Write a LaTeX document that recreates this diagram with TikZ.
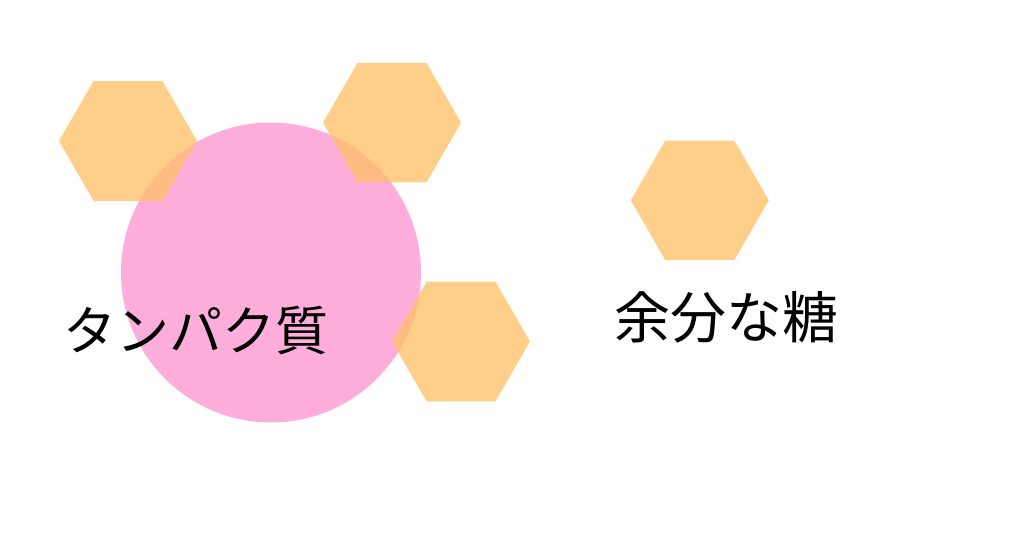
\documentclass[tikz,border=0pt]{standalone}
\usepackage{fontspec}
\usepackage{tikz}
\usetikzlibrary{shapes.geometric}
\newfontfamily\jpfont{Noto Sans CJK JP}
\definecolor{sugar}{RGB}{255,191,99}
\definecolor{protein}{RGB}{255,140,205}
\tikzstyle{hexa}=[regular polygon, regular polygon sides=6, fill=sugar, fill opacity=0.75, inner sep=0pt, minimum size=138pt]
\tikzstyle{word}=[inner sep=0pt, font=\jpfont\fontsize{53}{60}\selectfont]
\newcommand{\hexa}{\node[hexa]}

\begin{document}
\begin{tikzpicture}[x=1pt, y=-1pt]
\useasboundingbox (0,0) rectangle (1024,546);
\fill[protein, fill opacity=0.7] (271,272.5) circle (150pt);
\hexa (h1) at (128,141) {};
\hexa (h2) at (392,122.7) {};
\hexa (h3) at (461,341.5) {};
\hexa (h4) at (699.8,200.3) {};
\node[word] (prot) at (196,330) {タンパク質};
\node[word, font=\jpfont\fontsize{56}{60}\selectfont] (sugar) at (726.5,317) {余分な糖};
\end{tikzpicture}
\end{document}
